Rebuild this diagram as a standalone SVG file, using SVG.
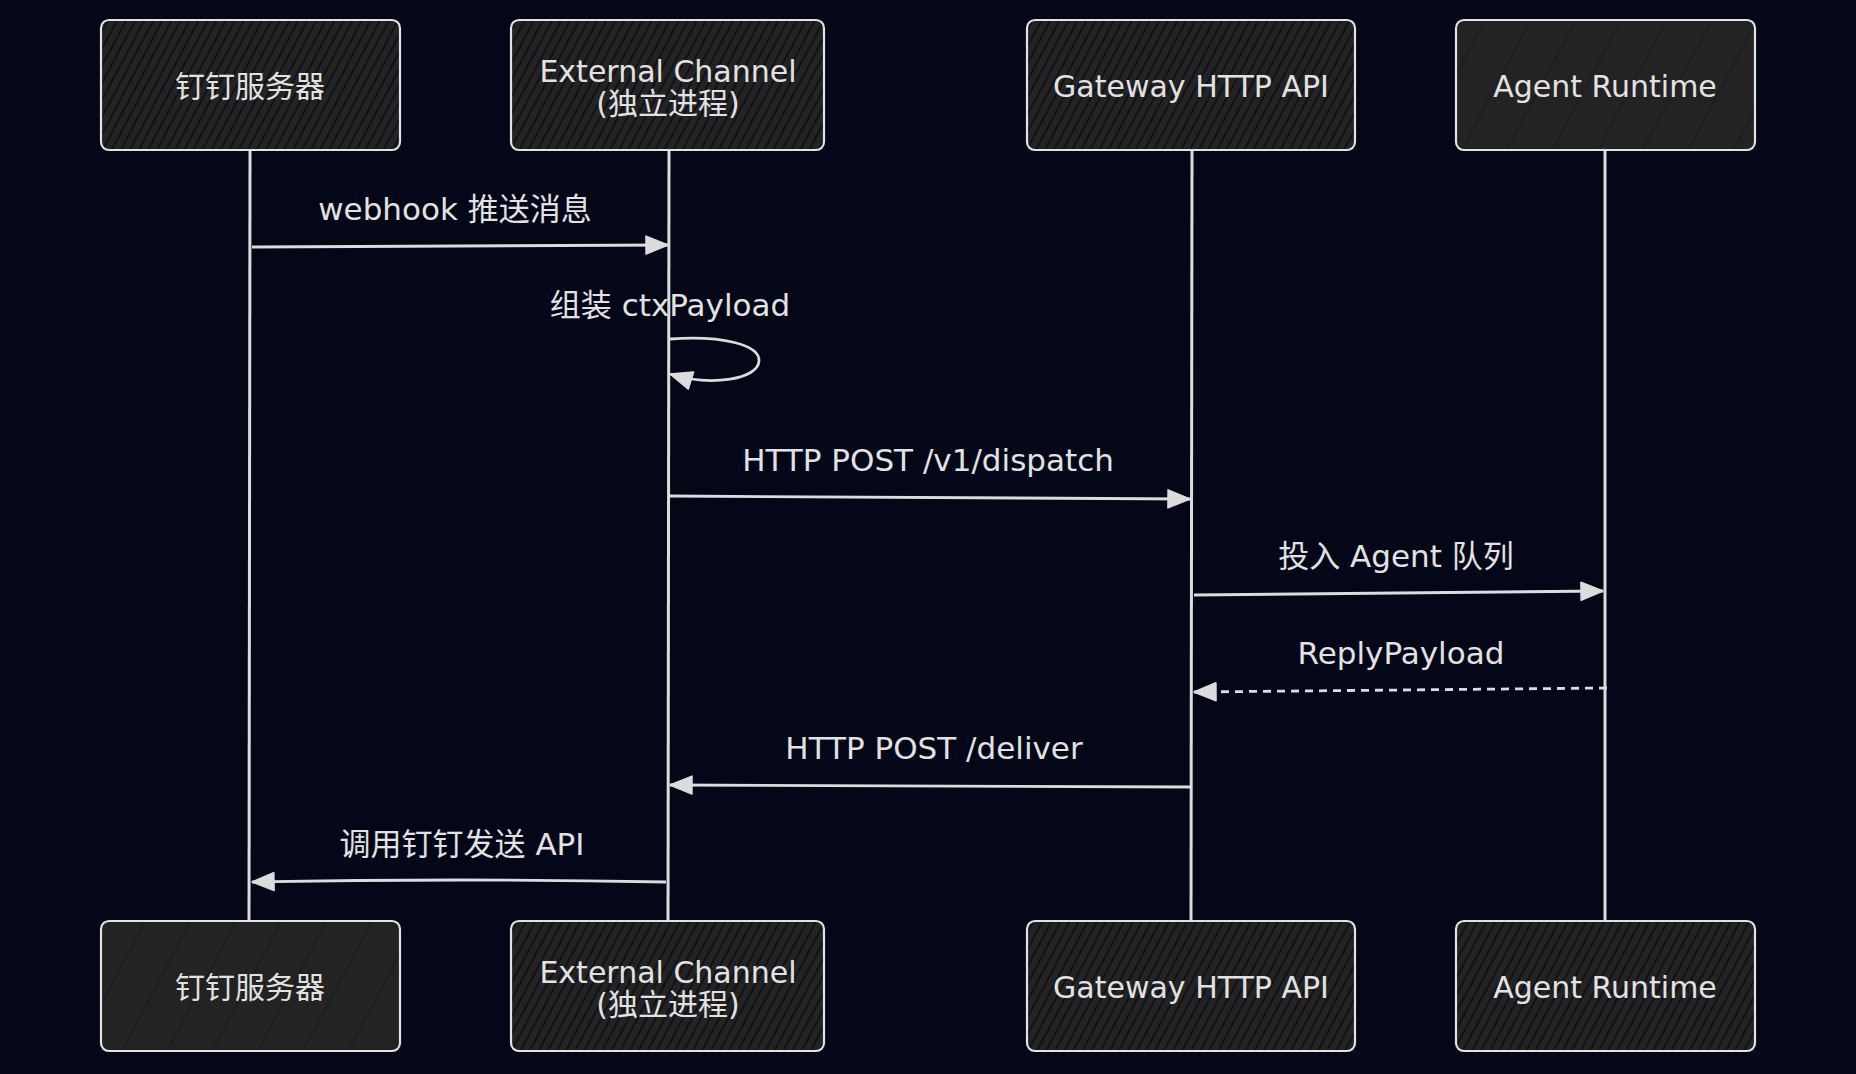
<svg xmlns="http://www.w3.org/2000/svg" width="1856" height="1074" viewBox="0 0 1856 1074">
<defs>
<pattern id="hatch" width="8" height="8" patternUnits="userSpaceOnUse" patternTransform="rotate(28)">
<rect width="8" height="8" fill="#232323"/>
<line x1="1" y1="0" x2="1" y2="8" stroke="#0a0c14" stroke-width="1.5"/>
</pattern>
<pattern id="hatch2" width="40" height="40" patternUnits="userSpaceOnUse" patternTransform="rotate(28)">
<rect width="40" height="40" fill="#232323"/>
<line x1="1" y1="0" x2="1" y2="40" stroke="#14161e" stroke-width="1"/>
</pattern>
<marker id="ah" viewBox="0 0 24 20" refX="23" refY="10" markerWidth="24" markerHeight="20" markerUnits="userSpaceOnUse" orient="auto">
<path d="M1,1 L23,10 L1,19 Z" fill="#dcdcdc" stroke="#dcdcdc" stroke-width="1.5" stroke-linejoin="round"/>
</marker>
</defs>
<style>
.box{stroke:#e2e2e2;stroke-width:2.2;fill:url(#hatch)}
.life{stroke:#dcdcdc;stroke-width:3;fill:none}
.msg{stroke:#dcdcdc;stroke-width:2.8;fill:none;marker-end:url(#ah)}
.dash{stroke-dasharray:8 6}
text{font-family:"DejaVu Sans","Noto Sans CJK SC",sans-serif;font-size:30px;fill:#e2e2e2;text-anchor:middle;dominant-baseline:central}
.lbl{font-size:31px}
</style>
<rect width="1856" height="1074" fill="#030717"/>

<g id="lifelines">
<line class="life" x1="250" y1="150" x2="249" y2="921"/>
<line class="life" x1="669" y1="150" x2="668" y2="921"/>
<line class="life" x1="1192" y1="150" x2="1191" y2="921"/>
<line class="life" x1="1605" y1="150" x2="1605" y2="921"/>
</g>

<g id="node-dingtalk-top"><rect class="box" x="101" y="20" width="299" height="130" rx="8"/><text x="250" y="86">钉钉服务器</text></g>
<g id="node-ext-top"><rect class="box" x="511" y="20" width="313" height="130" rx="8"/><text x="668" y="71">External Channel</text><text x="668" y="103">(独立进程)</text></g>
<g id="node-gw-top"><rect class="box" x="1027" y="20" width="328" height="130" rx="8"/><text x="1191" y="86">Gateway HTTP API</text></g>
<g id="node-agent-top"><rect class="box" x="1456" y="20" width="299" height="130" rx="8" style="fill:url(#hatch2)"/><text x="1605" y="86">Agent Runtime</text></g>

<g id="node-dingtalk-bottom"><rect class="box" x="101" y="921" width="299" height="130" rx="8" style="fill:url(#hatch2)"/><text x="250" y="987">钉钉服务器</text></g>
<g id="node-ext-bottom"><rect class="box" x="511" y="921" width="313" height="130" rx="8"/><text x="668" y="972">External Channel</text><text x="668" y="1004">(独立进程)</text></g>
<g id="node-gw-bottom"><rect class="box" x="1027" y="921" width="328" height="130" rx="8"/><text x="1191" y="987">Gateway HTTP API</text></g>
<g id="node-agent-bottom"><rect class="box" x="1456" y="921" width="299" height="130" rx="8"/><text x="1605" y="987">Agent Runtime</text></g>

<g id="connectors">
<path class="msg" d="M252 247 L668 245"/>
<path class="msg" d="M670 339 C722 335 760 345 759 361 C758 379 712 387 670 374"/>
<path class="msg" d="M670 496 L1190 499"/>
<path class="msg" d="M1194 595 L1603 591"/>
<path class="msg dash" d="M1607 688 L1194 692"/>
<path class="msg" d="M1190 787 L670 785"/>
<path class="msg" d="M666 882 Q460 878 252 882"/>
</g>

<g id="labels">
<text class="lbl" x="455" y="209">webhook 推送消息</text>
<text class="lbl" x="670" y="305">组装 ctxPayload</text>
<text class="lbl" x="928" y="460">HTTP POST /v1/dispatch</text>
<text class="lbl" x="1396" y="556">投入 Agent 队列</text>
<text class="lbl" x="1401" y="653">ReplyPayload</text>
<text class="lbl" x="934" y="748">HTTP POST /deliver</text>
<text class="lbl" x="462" y="844">调用钉钉发送 API</text>
</g>
</svg>
